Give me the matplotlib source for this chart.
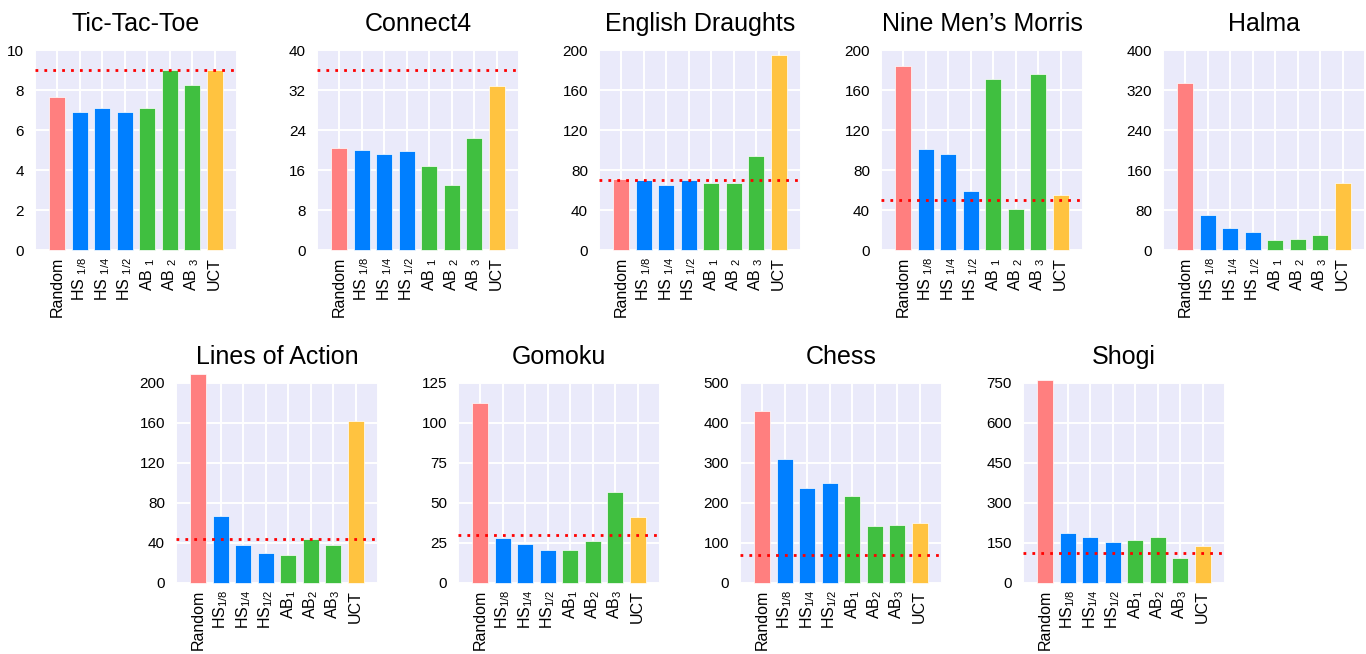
import matplotlib
matplotlib.use("Agg")
from matplotlib import pyplot as plt

plt.rcParams['font.family'] = ['Liberation Sans', 'DejaVu Sans']
plt.rcParams['mathtext.fontset'] = 'custom'
plt.rcParams['mathtext.rm'] = 'Liberation Sans'
plt.rcParams['mathtext.it'] = 'Liberation Sans'

games = ['Tic-Tac-Toe', 'Connect4', 'English Draughts', 'Nine Men\u2019s Morris', 'Halma',
         'Lines of Action', 'Gomoku', 'Chess', 'Shogi']

agents_top = ['Random', 'HS $_{1/8}$', 'HS $_{1/4}$', 'HS $_{1/2}$',
              'AB $_1$', 'AB $_2$', 'AB $_3$', 'UCT']
agents_bottom = ['Random', 'HS$_{1/8}$', 'HS$_{1/4}$', 'HS$_{1/2}$',
                 'AB$_1$', 'AB$_2$', 'AB$_3$', 'UCT']

tictactoe = [7.65, 6.9, 7.08, 6.9, 7.08, 9.0, 8.25, 9.0]
connect4 = [20.5, 20.1, 19.3, 19.9, 16.9, 13.0, 22.5, 32.9]
draughts = [71, 70, 65, 70, 67.3, 67.3, 94.3, 195]
morris = [184, 101, 96, 58.7, 171, 41.3, 176, 54.7]
halma = [334, 70, 45, 37, 20, 22, 30, 135]
loa = [209, 66.7, 38.3, 30.3, 27.7, 44, 38.3, 162]
gomoku = [112.7, 27.9, 24.4, 20.6, 20.6, 26.3, 57, 41.5]
chess = [431, 310, 238, 249, 217, 142, 144, 149]
shogi = [760, 186, 171, 154, 160, 171, 92.5, 137.5]

# red dotted reference line (None = not shown)
reference = [9.0, 36, 70, 50, None, 44, 30, 69, 114]

ymax = [10, 40, 200, 200, 400, 200, 125, 500, 750]
ystep = [2, 8, 40, 40, 80, 40, 25, 100, 150]

series = [tictactoe, connect4, draughts, morris, halma, loa, gomoku, chess, shogi]
colors = ['#FF7F7F', '#007FFF', '#007FFF', '#007FFF',
          '#40BF40', '#40BF40', '#40BF40', '#FFC340']

W, H = 1366, 654
fig = plt.figure(figsize=(W / 100, H / 100), dpi=100)

# axes boxes in pixels: left, top
boxes = [(35, 50), (317, 50), (599, 50), (881, 50), (1163, 50),
         (176, 383), (458, 383), (740, 383), (1023, 383)]
aw, ah = 202, 200

for i, game in enumerate(games):
    left, top = boxes[i]
    ax = fig.add_axes([left / W, 1 - (top + ah) / H, aw / W, ah / H])
    ax.set_facecolor('#EAEAFA')
    x = list(range(8))
    ax.bar(x, series[i], width=0.71, color=colors, edgecolor='#FFFFFF',
           linewidth=0.5, zorder=2, clip_on=False)
    if reference[i] is not None:
        ax.axhline(reference[i], color='red', linestyle=(0, (1, 2.2)),
                   linewidth=2, zorder=3)
    ax.set_xlim(-1, 8)
    ax.set_ylim(0, ymax[i])
    ax.set_yticks([k * ystep[i] for k in range(int(ymax[i] / ystep[i]) + 1)])
    ax.set_xticks(range(-1, 9))
    labels = agents_top if i < 5 else agents_bottom
    ax.set_xticklabels([''] + labels + [''], rotation=90, fontsize=11.5)
    ax.tick_params(axis='y', labelsize=11, length=0, pad=8)
    ax.tick_params(axis='x', length=0, pad=5)
    ax.grid(True, color='white', linewidth=1.4, zorder=0)
    ax.set_axisbelow(True)
    for s in ax.spines.values():
        s.set_visible(False)
    ax.set_title(game, fontsize=18, pad=14)

fig.savefig('out.png', dpi=100)
